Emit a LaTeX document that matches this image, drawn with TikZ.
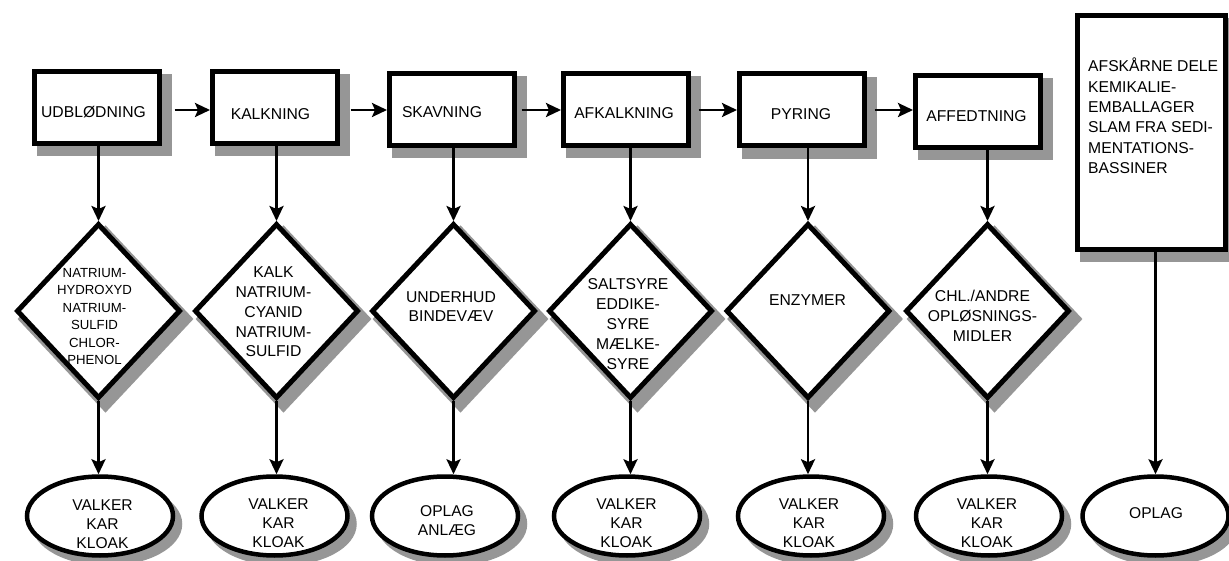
\documentclass[tikz,border=0pt]{standalone}
\usepackage{fontspec}
\setmainfont{Liberation Sans}
\usetikzlibrary{shapes.geometric,arrows.meta,calc}
\definecolor{shadowgray}{RGB}{150,150,150}
\pgfdeclarelayer{shadowlayer}
\pgfsetlayers{shadowlayer,main}
\begin{document}
\begin{tikzpicture}[x=1pt,y=-1pt,
  procbox/.style={draw=black,fill=white,line width=5pt,rectangle,inner sep=0pt,minimum width=125pt,minimum height=72pt},
  decbox/.style={draw=black,fill=white,line width=5pt,diamond,inner sep=0pt,minimum width=164pt,minimum height=175pt},
  endbox/.style={draw=black,fill=white,line width=4.5pt,ellipse,inner sep=0pt,minimum width=146pt,minimum height=79pt},
  shadowfill/.style={draw=shadowgray,fill=shadowgray,line join=miter},
  txt/.style={inner sep=0pt,align=center,font=\fontsize{15.7}{19.8}\selectfont},
  smalltxt/.style={inner sep=0pt,align=center,font=\fontsize{13.2}{17.5}\selectfont},
  elltxt/.style={inner sep=0pt,align=center,font=\fontsize{15.6}{19}\selectfont},
  sidetxt/.style={inner sep=0pt,align=left,anchor=west,font=\fontsize{15.7}{20.4}\selectfont},
  arr/.style={line width=2.6pt,-{Stealth[length=15pt,width=14pt,inset=3pt]}},
]
\useasboundingbox (0,0) rectangle (1229,561);
\coordinate (hrow) at (0,110);

% process boxes
\node[procbox] (b1) at (97,107.5) {};
\node[procbox] (b2) at (275,107.5) {};
\node[procbox] (b3) at (452,109.5) {};
\node[procbox] (b4) at (626,109.5) {};
\node[procbox] (b5) at (802,110) {};
\node[procbox] (b6) at (978,111.5) {};
\node[procbox,minimum width=148pt,minimum height=234pt] (b7) at (1151.5,132.5) {};

\node[txt] (t1) at (93.5,112) {UDBLØDNING};
\node[txt] (t2) at (270.5,114) {KALKNING};
\node[txt] (t3) at (442,112) {SKAVNING};
\node[txt] (t4) at (624,113) {AFKALKNING};
\node[txt] (t5) at (801,114) {PYRING};
\node[txt] (t6) at (976.5,116) {AFFEDTNING};
\node[sidetxt] (t7) at (1088,116) {AFSKÅRNE DELE\\KEMIKALIE-\\EMBALLAGER\\SLAM FRA SEDI-\\MENTATIONS-\\BASSINER};

% diamonds
\node[decbox] (d1) at (98.5,311) {};
\node[decbox] (d2) at (276.5,311) {};
\node[decbox] (d3) at (453.5,311) {};
\node[decbox] (d4) at (630.5,311) {};
\node[decbox] (d5) at (808,311) {};
\node[decbox] (d6) at (987.5,311) {};

\node[smalltxt] (s1) at (94.5,316.5) {NATRIUM-\\HYDROXYD\\NATRIUM-\\SULFID\\CHLOR-\\PHENOL};
\node[txt] (s2) at (273.5,312) {KALK\\NATRIUM-\\CYANID\\NATRIUM-\\SULFID};
\node[txt] (s3) at (451,306.5) {UNDERHUD\\BINDEVÆV};
\node[txt] (s4) at (628,324) {SALTSYRE\\EDDIKE-\\SYRE\\MÆLKE-\\SYRE};
\node[txt] (s5) at (807.5,300) {ENZYMER};
\node[txt] (s6) at (982.5,316) {CHL./ANDRE\\OPLØSNINGS-\\MIDLER};

% ellipses
\node[endbox] (e1) at (100,516) {};
\node[endbox] (e2) at (274.5,516) {};
\node[endbox] (e3) at (445,516) {};
\node[endbox] (e4) at (627,516) {};
\node[endbox] (e5) at (811,516) {};
\node[endbox] (e6) at (989,516) {};
\node[endbox] (e7) at (1155.5,516) {};

\node[elltxt] (u1) at (102.5,524) {VALKER\\KAR\\KLOAK};
\node[elltxt] (u2) at (278.5,523.5) {VALKER\\KAR\\KLOAK};
\node[elltxt] (u3) at (447,520.5) {OPLAG\\ANLÆG};
\node[elltxt] (u4) at (626.5,523) {VALKER\\KAR\\KLOAK};
\node[elltxt] (u5) at (809,523) {VALKER\\KAR\\KLOAK};
\node[elltxt] (u6) at (987,523) {VALKER\\KAR\\KLOAK};
\node[elltxt] (u7) at (1156,513) {OPLAG};

% shadows (behind everything)
\begin{pgfonlayer}{shadowlayer}
  \foreach \n in {b1,b2,b3,b4,b5,b6,b7}{
    \filldraw[shadowfill,line width=5pt] ([shift={(7,8)}]\n.north west) rectangle ([shift={(7,8)}]\n.south east);
  }
  \foreach \n in {d1,d2,d3,d4,d5,d6}{
    \filldraw[shadowfill,line width=5pt] ([shift={(7,8)}]\n.north) -- ([shift={(7,8)}]\n.east)
      -- ([shift={(7,8)}]\n.south) -- ([shift={(7,8)}]\n.west) -- cycle;
  }
  \foreach \n in {e1,e2,e3,e4,e5,e6,e7}{
    \filldraw[shadowfill,line width=4.5pt] ([shift={(7,8)}]\n.center) ellipse [x radius=73pt, y radius=39.5pt];
  }
\end{pgfonlayer}

% horizontal arrows
\draw[arr] ([xshift=12.5pt]b1.east |- hrow) -- (b2.west |- hrow);
\draw[arr] ([xshift=10.5pt]b2.east |- hrow) -- (b3.west |- hrow);
\draw[arr] ([xshift=4.5pt]b3.east |- hrow) -- (b4.west |- hrow);
\draw[arr] ([xshift=7.5pt]b4.east |- hrow) -- (b5.west |- hrow);
\draw[arr] ([xshift=7.5pt]b5.east |- hrow) -- (b6.west |- hrow);

% vertical connectors
\foreach \i in {1,...,6}{
  \draw[arr] (b\i.south -| d\i.north) -- (d\i.north);
  \draw[arr] (d\i.south) -- (d\i.south |- e\i.north);
}
\draw[arr] (b7.south -| e7.north) -- (e7.north);
\end{tikzpicture}
\end{document}
